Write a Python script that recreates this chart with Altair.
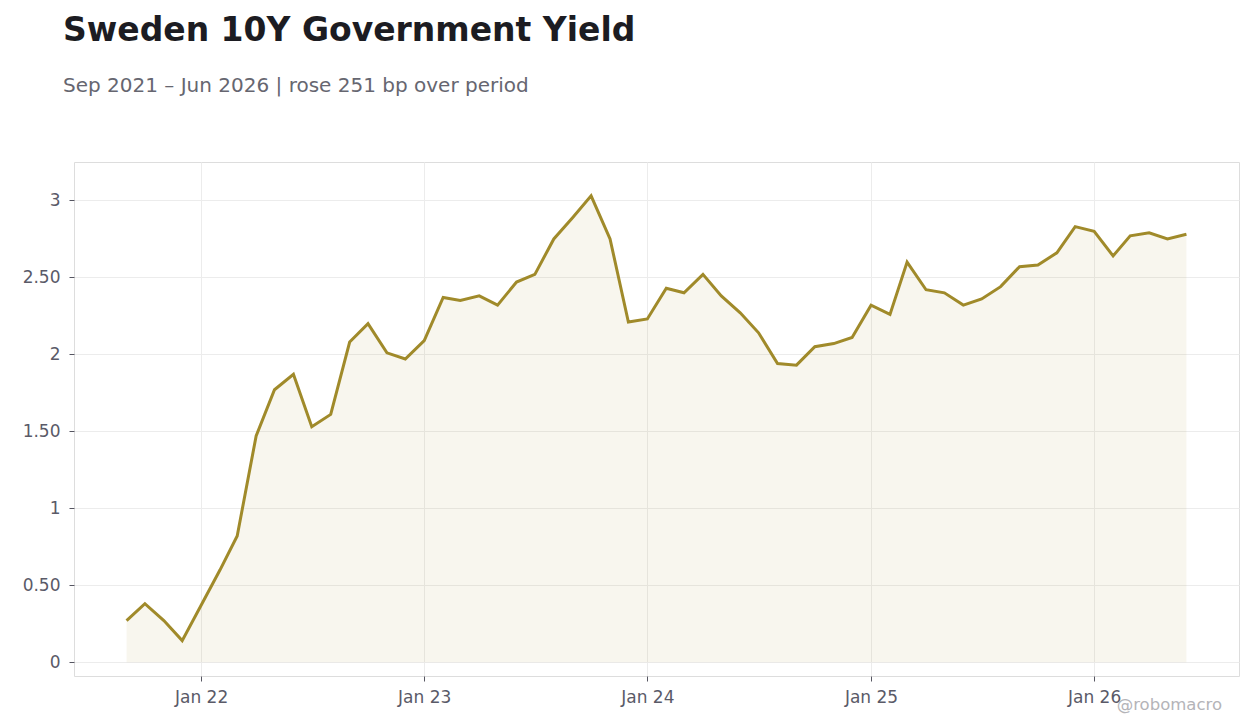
import altair as alt
import pandas as pd

# monthly 10Y yield, Sep 2021 .. Jun 2026
months = pd.date_range("2021-09-01", "2026-06-01", freq="MS").strftime("%Y-%m-%dT00:00:00").tolist()
yields = [
    0.27, 0.38, 0.27, 0.14,
    0.37, 0.60, 0.82, 1.47, 1.77, 1.87, 1.53, 1.61, 2.08, 2.20, 2.01, 1.97,
    2.09, 2.37, 2.35, 2.38, 2.32, 2.47, 2.52, 2.75, 2.89, 3.03, 2.75, 2.21,
    2.23, 2.43, 2.40, 2.52, 2.38, 2.27, 2.14, 1.94, 1.93, 2.05, 2.07, 2.11,
    2.32, 2.26, 2.60, 2.42, 2.40, 2.32, 2.36, 2.44, 2.57, 2.58, 2.66, 2.83,
    2.80, 2.64, 2.77, 2.79, 2.75, 2.78,
]
y_ticks = [0, 0.5, 1, 1.5, 2, 2.5, 3]

df = pd.DataFrame({"date": months, "yield": yields})

LINE = "#a08a2a"
FONT = "DejaVu Sans"

x = alt.X(
    "date:T",
    title=None,
    scale=alt.Scale(domain=["2021-06-07T00:00:00", "2026-08-26T00:00:00"]),
    axis=alt.Axis(
        format="%b %y",
        tickCount=alt.TickCount(interval="year", step=1),
        grid=True,
        gridColor="#ececec",
        domain=False,
        tickColor="#555560",
        tickSize=5,
        labelPadding=8,
        labelFontSize=17,
        labelColor="#5a5a68",
    ),
)
y = alt.Y(
    "yield:Q",
    title=None,
    scale=alt.Scale(domain=[-0.09, 3.25], nice=False, zero=False),
    axis=alt.Axis(
        values=y_ticks,
        labelExpr="datum.value % 1 == 0 ? format(datum.value, 'd') : format(datum.value, '.2f')",
        grid=True,
        gridColor="#ececec",
        domain=False,
        tickColor="#555560",
        tickSize=5,
        labelPadding=9,
        labelFontSize=17,
        labelColor="#5a5a68",
    ),
)

base = alt.Chart(df)
area = base.mark_area(color=LINE, opacity=0.08).encode(x=x, y=y, y2=alt.datum(0))
line = base.mark_line(color=LINE, strokeWidth=3).encode(x=x, y=y)
mark = alt.Chart(pd.DataFrame({"t": ["@robomacro"]})).mark_text(
    align="right", baseline="alphabetic", font=FONT, fontSize=16.5, color="#b4b4b8"
).encode(text="t:N", x=alt.value(1148), y=alt.value(548))

chart = (
    alt.layer(area, line, mark)
    .properties(
        width=1165,
        height=514,
        padding={"left": 66, "top": 154, "right": 13, "bottom": 40},
        autosize=alt.AutoSizeParams(type="none"),
        title=alt.TitleParams(
            text="Sweden 10Y Government Yield",
            subtitle="Sep 2021 – Jun 2026 | rose 251 bp over period",
            anchor="start",
            frame="group",
            dx=-11,
            offset=66,
            fontSize=33,
            fontWeight="bold",
            color="#1c1c22",
            subtitleFontSize=20,
            subtitleColor="#666670",
            subtitlePadding=28,
            font=FONT,
            subtitleFont=FONT,
        ),
    )
    .configure_view(stroke="#dddddd", strokeWidth=1)
    .configure(font=FONT)
)

chart.save("out.html", embed_options={"renderer": "svg", "actions": False})
